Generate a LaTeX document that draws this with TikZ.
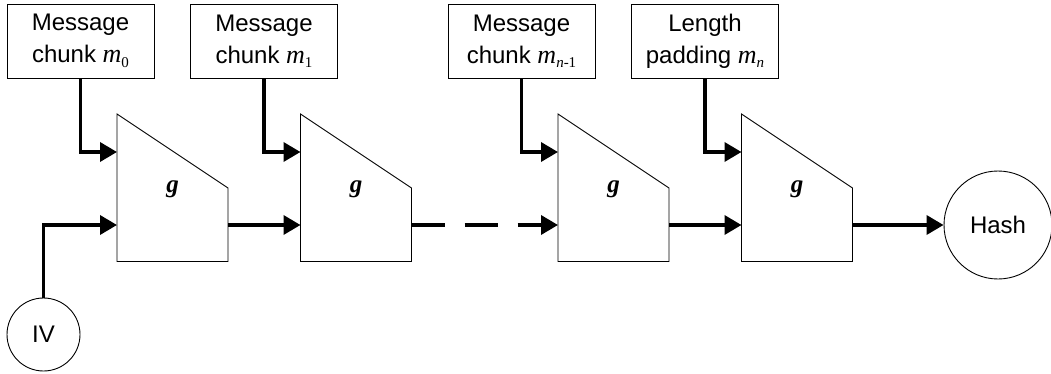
\documentclass[tikz,border=0pt]{standalone}
\usepackage{fontspec}
\setmainfont{Liberation Sans}
\newfontfamily\tms{Liberation Serif}
\usetikzlibrary{arrows.meta}
% italic serif symbol with a small subscript
\newcommand\symsub[2]{{\tms\itshape\fontsize{26}{26}\selectfont #1}\raisebox{-0.35ex}{\tms\fontsize{15}{15}\selectfont #2}}
\tikzset{
  chunkbox/.style={draw, line width=0.9pt, minimum width=147pt, minimum height=74pt,
    inner sep=0pt, align=center, font=\fontsize{24}{32}\selectfont},
  stage/.style={draw, line width=0.9pt, fill=white},
  flow/.style={line width=3.5pt, -{Triangle[length=17pt,width=19pt]}},
  endpoint/.style={draw, circle, line width=0.9pt, inner sep=0pt, font=\fontsize{24}{28}\selectfont},
}
\begin{document}
\begin{tikzpicture}[x=1pt,y=-1pt]
\useasboundingbox (0,0) rectangle (1051,374);

% compression stages g
\foreach \nm/\lx in {g0/117, g1/300.5, g2/558, g3/741.5}{
  \draw[stage] (\lx,114) -- (\lx+111,188) -- (\lx+111,261.5) -- (\lx,261.5) -- cycle;
  \coordinate (\nm-top) at (\lx,152);
  \coordinate (\nm-in) at (\lx,225);
  \coordinate (\nm-out) at (\lx+111,225);
  \node[font=\fontsize{25}{25}\selectfont\tms\bfseries\itshape] (\nm-lab) at (\lx+55.5,189) {g};
}

% message inputs
\node[chunkbox] (b0) at (80.5,41)  {Message\\chunk \symsub{m}{0}};
\node[chunkbox] (b1) at (264,41)   {Message\\chunk \symsub{m}{1}};
\node[chunkbox] (b2) at (521.5,41) {Message\\chunk \symsub{m}{{\itshape n}-1}};
\node[chunkbox] (b3) at (705,41)   {Length\\padding \symsub{m}{{\itshape n}}};

\node[endpoint, minimum size=73pt] (iv) at (43.5,334.5) {IV};
\node[endpoint, minimum size=108pt] (hash) at (998,225) {Hash};

% connectors
\draw[flow] (b0.south) |- (g0-top);
\draw[flow] (b1.south) |- (g1-top);
\draw[flow] (b2.south) |- (g2-top);
\draw[flow] (b3.south) |- (g3-top);
\draw[flow] (iv.north) |- (g0-in);
\draw[flow] (g0-out) -- (g1-in);
\draw[flow, dash pattern=on 33pt off 20pt] (g1-out) -- (g2-in);
\draw[flow] (g2-out) -- (g3-in);
\draw[flow] (g3-out) -- (hash.west);
\end{tikzpicture}
\end{document}
